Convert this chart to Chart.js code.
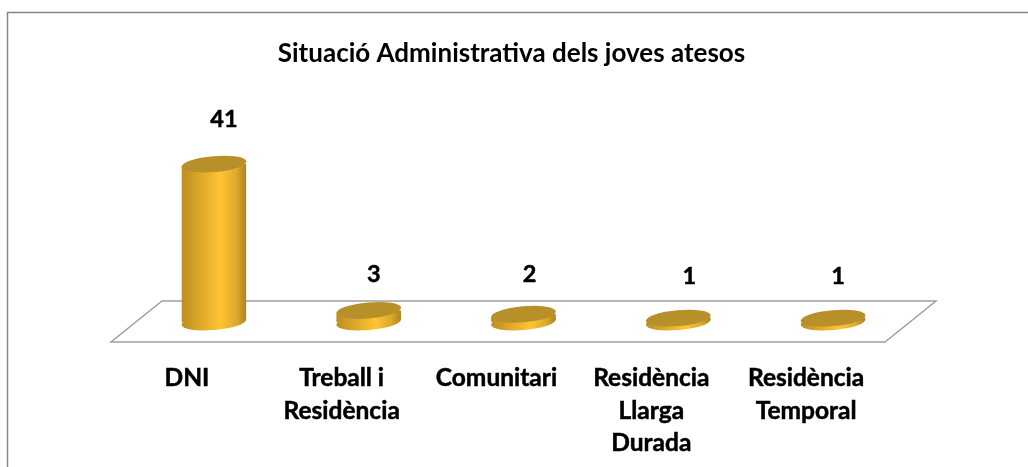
<!DOCTYPE html>
<html><head><meta charset="utf-8">
<script src="https://cdn.jsdelivr.net/npm/chart.js@4"></script>
<style>html,body{margin:0;padding:0;background:#fff}canvas{display:block}#c{position:absolute;left:0;top:0}</style>
</head><body>
<canvas id="c" width="1028" height="467"></canvas>
<script>
const titleText = "Situació Administrativa dels joves atesos";
const categories = [["DNI"],["Treball i","Residència"],["Comunitari"],["Residència","Llarga","Durada"],["Residència","Temporal"]];
const values = [41,3,2,1,1];
const valueNudgeX = [10,5,6,11,5];
const valueNudgeY = [-45,-36,-40,-42,-42];

const FONT = "Lato, Carlito, Calibri, sans-serif";
const DEPTH_X = 25.5, DEPTH_Y = 20;
const TILT = -5*Math.PI/180, RY = 8;

function halfWidth(chart){ const x=chart.scales.x; return x.width/categories.length*0.42/2; }
function barGradient(c,cx,hw){
  const g=c.createLinearGradient(cx-hw,0,cx+hw,0);
  g.addColorStop(0,'#BC8E20');g.addColorStop(0.6,'#FFC433');g.addColorStop(0.85,'#DDA92B');g.addColorStop(1,'#AD8322');
  return g;
}
const cylinder3d = {
  id:'cylinder3d',
  beforeDatasetsDraw(chart){
    const c=chart.ctx,a=chart.chartArea,y0=chart.scales.y.getPixelForValue(0);
    c.save();
    c.strokeStyle='#A0A0A0';c.lineWidth=1.5;
    c.beginPath();
    c.moveTo(a.left-DEPTH_X,y0+DEPTH_Y);c.lineTo(a.right-DEPTH_X,y0+DEPTH_Y);
    c.lineTo(a.right+DEPTH_X,y0-DEPTH_Y-1);c.lineTo(a.left+DEPTH_X,y0-DEPTH_Y-1);c.closePath();c.stroke();
    const hw=halfWidth(chart);
    chart.getDatasetMeta(0).data.forEach(b=>{
      c.fillStyle=barGradient(c,b.x,hw);
      c.beginPath();c.ellipse(b.x,b.base,hw,RY,TILT,0,Math.PI*2);c.fill();
    });
    c.restore();
  },
  beforeDatasetDraw(chart){
    const c=chart.ctx,hw=halfWidth(chart),dx=hw*Math.cos(TILT),dy=hw*Math.sin(TILT);
    c.save();
    c.beginPath();
    chart.getDatasetMeta(0).data.forEach(b=>{
      c.moveTo(b.x-dx,b.y-dy);c.lineTo(b.x+dx,b.y+dy);c.lineTo(b.x+dx,b.base+dy);c.lineTo(b.x-dx,b.base-dy);c.closePath();
    });
    c.clip();
  },
  afterDatasetDraw(chart){ chart.ctx.restore(); },
  afterDatasetsDraw(chart){
    const c=chart.ctx,hw=halfWidth(chart);
    c.save();
    chart.getDatasetMeta(0).data.forEach((b,i)=>{
      c.fillStyle='#B8902A';
      c.beginPath();c.ellipse(b.x,b.y,hw,RY,TILT,0,Math.PI*2);c.fill();
      c.fillStyle='#000';c.strokeStyle='#000';c.lineWidth=0.5;c.font='bold 23.5px '+FONT;c.textAlign='center';c.textBaseline='middle';
      c.fillText(String(values[i]),b.x+valueNudgeX[i],b.y+valueNudgeY[i]);
      c.strokeText(String(values[i]),b.x+valueNudgeX[i],b.y+valueNudgeY[i]);
    });
    c.restore();
    c.save();
    c.strokeStyle='#868686';c.lineWidth=1.5;
    c.beginPath();c.moveTo(7.5,467);c.lineTo(7.5,12.5);c.lineTo(1028,12.5);c.stroke();
    c.restore();
  }
};
new Chart(document.getElementById('c'),{
  type:'bar',
  data:{labels:categories,datasets:[{data:values,borderWidth:0,
    barPercentage:0.42,categoryPercentage:1,
    backgroundColor(ctx){
      const ch=ctx.chart;
      if(!ch.chartArea||ctx.dataIndex===undefined) return '#E0AC2A';
      return barGradient(ch.ctx,ch.scales.x.getPixelForValue(ctx.dataIndex),halfWidth(ch));
    }}]},
  plugins:[cylinder3d],
  options:{
    responsive:false,animation:false,
    layout:{padding:{left:0,right:5,top:0,bottom:0}},
    plugins:{legend:{display:false},tooltip:{enabled:false},
      title:{display:true,text:titleText,color:'#000',
        font:{family:FONT,size:26,weight:'bold',lineHeight:1.2},
        padding:{top:38.4,bottom:79.1}}},
    scales:{
      x:{grid:{display:false},border:{display:false},
        afterFit(s){s.height=145;},
        ticks:{autoSkip:false,maxRotation:0,minRotation:0,padding:32,labelOffset:-DEPTH_X-1.5,color:'#000',
          textStrokeColor:'#000',textStrokeWidth:0.5,
          font:{family:FONT,size:24.5,weight:'bold',lineHeight:1.33}}},
      y:{min:0,max:45,grid:{display:false},border:{display:false},ticks:{display:false},
        afterFit(s){s.width=136.5;}},
      y2:{position:'right',grid:{display:false},border:{display:false},ticks:{display:false},
        afterFit(s){s.width=112.5;}}
    }
  }
});
</script>
</body></html>
